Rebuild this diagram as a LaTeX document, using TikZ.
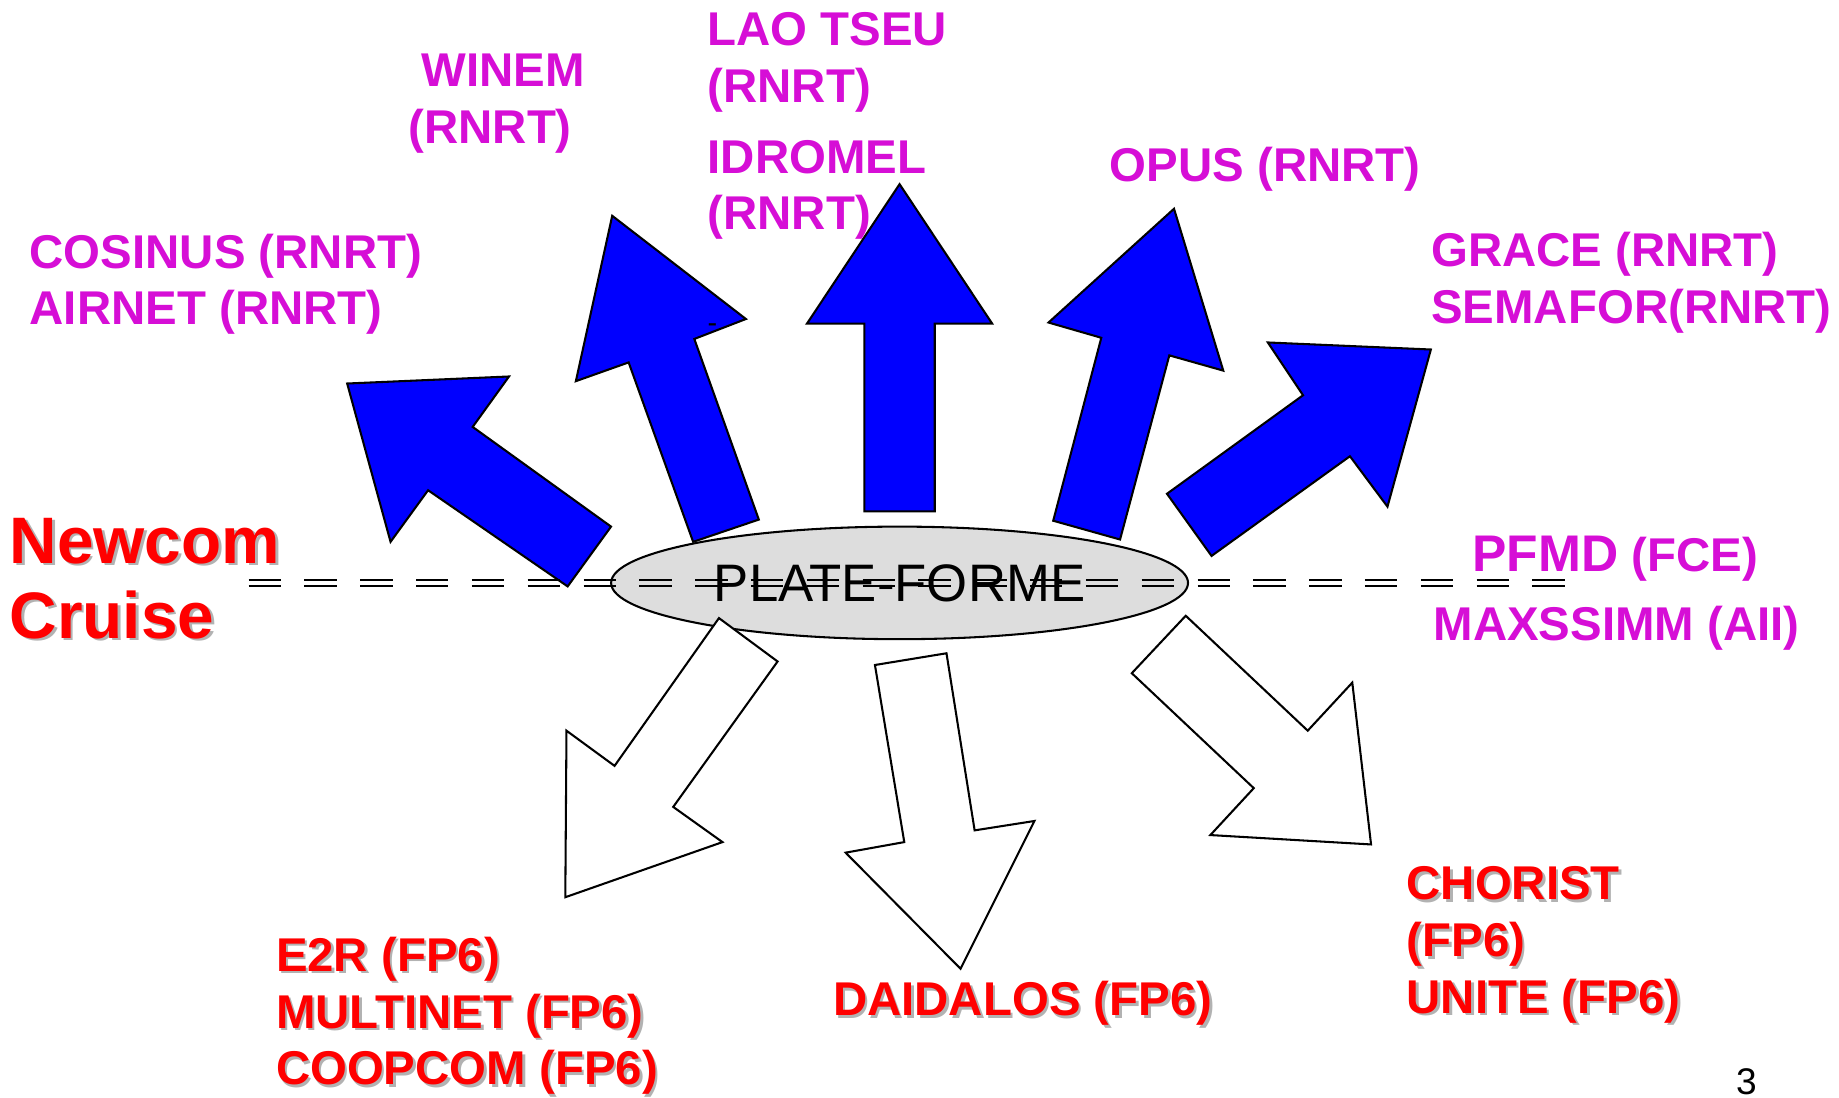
\documentclass[tikz,border=0pt]{standalone}
\usepackage{fontspec}
\setmainfont{Liberation Sans}
\usetikzlibrary{shapes.geometric, calc}
\definecolor{rnrt}{RGB}{214,14,214}
\definecolor{arrowblue}{RGB}{0,0,255}
\definecolor{shade}{RGB}{178,178,178}
\definecolor{pfgray}{RGB}{221,221,221}
% red project label with its grey shadow
\newcommand*{\fpnode}[4][]{%
  \node[fptext, #1, text=shade, xshift=0.45mm, yshift=-0.45mm] at (#3) {#4};
  \node[fptext, #1] (#2) at (#3) {#4};}

\begin{document}
\begin{tikzpicture}[x=0.02cm, y=-0.02cm,
  upblue/.style={draw=black, fill=arrowblue, line width=1pt},
  downwhite/.style={draw=black, fill=white, line width=1pt},
  rnrttext/.style={text=rnrt, font=\fontsize{23}{27.6}\selectfont\bfseries, anchor=base west, inner sep=0pt, align=left},
  fptext/.style={text=red, font=\fontsize{23}{27.6}\selectfont\bfseries, anchor=base west, inner sep=0pt, align=left},
  rail/.style={line width=1.15pt, dash pattern=on 0.552cm off 0.4cm}]
 \useasboundingbox (0,0) rectangle (1568,936);

 % funded projects going up
 \draw[upblue] (484,500) -- (365,418) -- (333,462) -- (296,327) -- (434,321) -- (403,364) -- (521,449) -- cycle;
 \draw[upblue] (591,462) -- (536,309) -- (491,325) -- (522,184) -- (636,272) -- (592,289) -- (647,443) -- cycle;
 \draw[upblue] (737,436) -- (737,276) -- (688,276) -- (767,157) -- (846,276) -- (797,276) -- (797,436) -- cycle;
 \draw[upblue] (898,444) -- (939,288) -- (894,275) -- (1001,178) -- (1043,316) -- (997,303) -- (955,460) -- cycle;
 \draw[upblue] (995,421) -- (1111,337) -- (1081,292) -- (1220,298) -- (1183,432) -- (1151,389) -- (1033,474) -- cycle;
 \node[font=\fontsize{14}{14}\selectfont, anchor=base, inner sep=0pt] (stray) at (607.5,283.5) {-};

 \node[ellipse, draw=black, fill=pfgray, line width=1pt, inner sep=0pt,
   minimum width=9.84cm, minimum height=1.92cm,
   font=\fontsize{25.6}{30}\selectfont] (pf) at (767,497) {PLATE-FORME};

 % FP6 projects going down
 \draw[downwhite] (613,527) -- (663,564) -- (574,688) -- (616,718) -- (482,765) -- (483,623) -- (524,653) -- cycle;
 \draw[downwhite] (746,567) -- (807,557) -- (831,708) -- (882,700) -- (819,826) -- (721,727) -- (771,718) -- cycle;
 \draw[downwhite] (965,574) -- (1011,525) -- (1115,623) -- (1153,582) -- (1169,720) -- (1032,712) -- (1069,672) -- cycle;

 \coordinate (dl) at (212,497);
 \coordinate (dr) at (1338,497);
 \foreach \dy in {-2.5,2.5}
  \draw[rail] ($(dl)+(0,\dy)$) -- ($(dr)+(0,\dy)$);

 % base of a multi-line label = its last line
 \node[rnrttext] (winem) at (348,122) {\ WINEM\\(RNRT)};
 \node[rnrttext] (laotseu) at (603,87) {LAO TSEU\\(RNRT)};
 \node[rnrttext] (idromel) at (603,196) {IDROMEL\\(RNRT)};
 \node[rnrttext] (opus) at (946,155) {OPUS (RNRT)};
 \node[rnrttext] (cosinus) at (25,277) {COSINUS (RNRT)\\AIRNET (RNRT)};
 \node[rnrttext] (grace) at (1220,276) {GRACE (RNRT)\\SEMAFOR(RNRT)};
 \node[rnrttext] (pfmd) at (1255,487) {{\fontsize{25}{30}\selectfont PFMD} (FCE)};
 \node[rnrttext] (maxssimm) at (1222,546) {MAXSSIMM (AII)};

 \fpnode[font=\fontsize{31.9}{36.4}\selectfont\bfseries]{newcom}{8,544}{Newcom\\Cruise}
 \fpnode{e2r}{235,925}{E2R (FP6)\\MULTINET (FP6)\\COOPCOM (FP6)}
 \fpnode{daidalos}{710,866}{DAIDALOS (FP6)}
 \fpnode{chorist}{1199,864}{CHORIST\\(FP6)\\UNITE (FP6)}

 \node[font=\fontsize{18}{21}\selectfont, anchor=base west, inner sep=0pt] (page) at (1480,933) {3};
\end{tikzpicture}
\end{document}
